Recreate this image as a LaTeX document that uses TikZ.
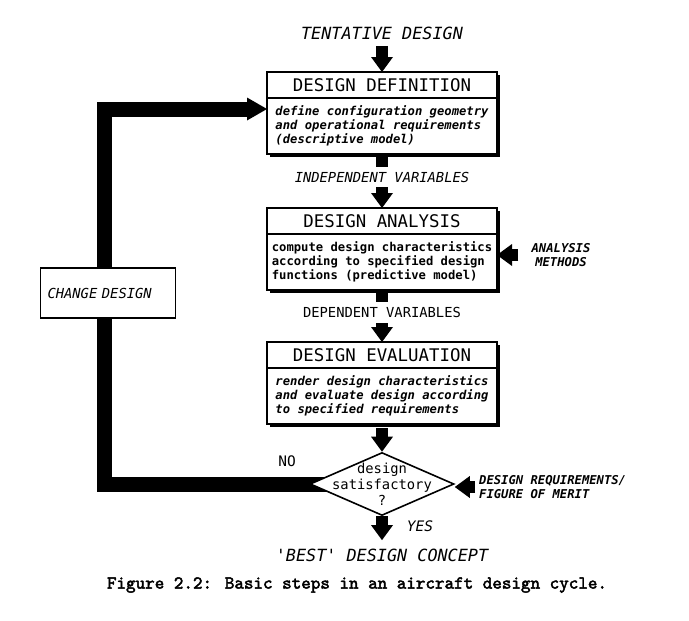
\documentclass[tikz,border=0pt]{standalone}
\usepackage{fontspec}
\newfontfamily\plotfont{DejaVu Sans Mono}
\newfontfamily\capfont[FakeBold=2.5]{lmmono10-regular.otf}
\usetikzlibrary{arrows.meta,positioning,shapes.geometric,shadows,backgrounds}

\newcommand{\fsz}[2]{\fontsize{#1}{#2}\selectfont}

\begin{document}
\begin{tikzpicture}[x=1pt,y=-1pt,
    every node/.style={font=\plotfont},
    boxpart/.style={draw,fill=white,line width=1.6pt,minimum width=230pt,outer sep=0pt,
      drop shadow={shadow xshift=3pt,shadow yshift=-3pt,fill=black,opacity=1}},
    boxtitle/.style={boxpart,minimum height=26pt,inner sep=0pt,font=\plotfont\fsz{17.4}{20}},
    boxbody/.style={boxpart,minimum height=56pt,inner sep=0pt,align=left},
    decision/.style={diamond,draw,fill=white,line width=1.6pt,minimum width=144pt,minimum height=63pt,inner sep=0pt},
    bigtext/.style={font=\plotfont\itshape\fsz{16.8}{20}},
    vartext/.style={fill=white,inner xsep=3pt,inner ysep=5pt,font=\plotfont\fsz{13.8}{16}},
    sidetext/.style={inner sep=0pt,font=\plotfont\bfseries\itshape\fsz{12.2}{14}},
    flowarrow/.style={line width=12pt,-{Triangle[width=22pt,length=15pt,line width=0pt]}},
    looparrow/.style={line width=15pt,line join=miter,-{Triangle[width=23pt,length=20pt,line width=0pt]}}]
  \useasboundingbox (0,0) rectangle (689,621);

  \node[bigtext] (tent) at (382,33) {TENTATIVE DESIGN};

  \node[boxtitle] (defT) at (382,85) {DESIGN DEFINITION};
  \node[boxbody,below=0pt of defT,font=\plotfont\bfseries\itshape\fsz{12.2}{14}] (defB)
    {define configuration geometry\\and operational requirements\\(descriptive model)};

  \node[boxtitle] (anaT) at (382,221) {DESIGN ANALYSIS};
  \node[boxbody,below=0pt of anaT,font=\plotfont\bfseries\fsz{12.2}{14}] (anaB)
    {compute design characteristics\\according to specified design\\functions (predictive model)};

  \node[boxtitle] (evaT) at (382,355) {DESIGN EVALUATION};
  \node[boxbody,below=0pt of evaT,font=\plotfont\bfseries\itshape\fsz{12.2}{14}] (evaB)
    {render design characteristics\\and evaluate design according\\to specified requirements};

  \node[decision] (dia) at (382,484) {};
  \node[align=center,inner sep=0pt,font=\plotfont\fsz{13.8}{16}] (diaq) at (dia.center)
    {design\\satisfactory\\?};

  \node[sidetext,align=center] (methods) at (561,255) {ANALYSIS\\METHODS};
  \node[sidetext,align=left,anchor=west] (reqs) at (479,487) {DESIGN REQUIREMENTS/\\FIGURE OF MERIT};

  \node[draw,fill=white,line width=1.6pt,minimum width=135pt,minimum height=50pt,
    text width=121pt,align=left,font=\plotfont\itshape\fsz{13.8}{16}] (change) at (108,293) {CHANGE DESIGN};
  \node[font=\plotfont\fsz{14.5}{16}] (no) at (287,461) {NO};
  \node[font=\plotfont\itshape\fsz{14.5}{16}] (yes) at (420,526) {YES};

  \node[bigtext] (best) at (382,555) {'BEST' DESIGN CONCEPT};
  \node[font=\capfont\fsz{18.2}{20}] (caption) at (357,585)
    {Figure 2.2: Basic steps in an aircraft design cycle.};

  \begin{scope}[on background layer]
    \draw[flowarrow,shorten <=3pt] (tent) -- (defT);
    \draw[flowarrow] (defB) -- node[vartext,pos=0.43,font=\plotfont\itshape\fsz{13.8}{16}]
      {INDEPENDENT VARIABLES} (anaT);
    \draw[flowarrow] (anaB) -- node[vartext,pos=0.43] {DEPENDENT VARIABLES} (evaT);
    \draw[flowarrow,shorten <=4pt] (evaB) -- (dia.north);
    \draw[flowarrow,shorten >=5pt] (dia.south) -- (best);
    \draw[flowarrow,shorten <=13pt] (methods.west) -- (methods.west -| anaB.east);
    \draw[flowarrow,shorten <=4pt] (reqs.west) -- (reqs.west -| dia.east);
    \draw[looparrow] (dia.center) -| (104.5,300) |- ([yshift=-11pt]defT.south west);
  \end{scope}
\end{tikzpicture}
\end{document}
